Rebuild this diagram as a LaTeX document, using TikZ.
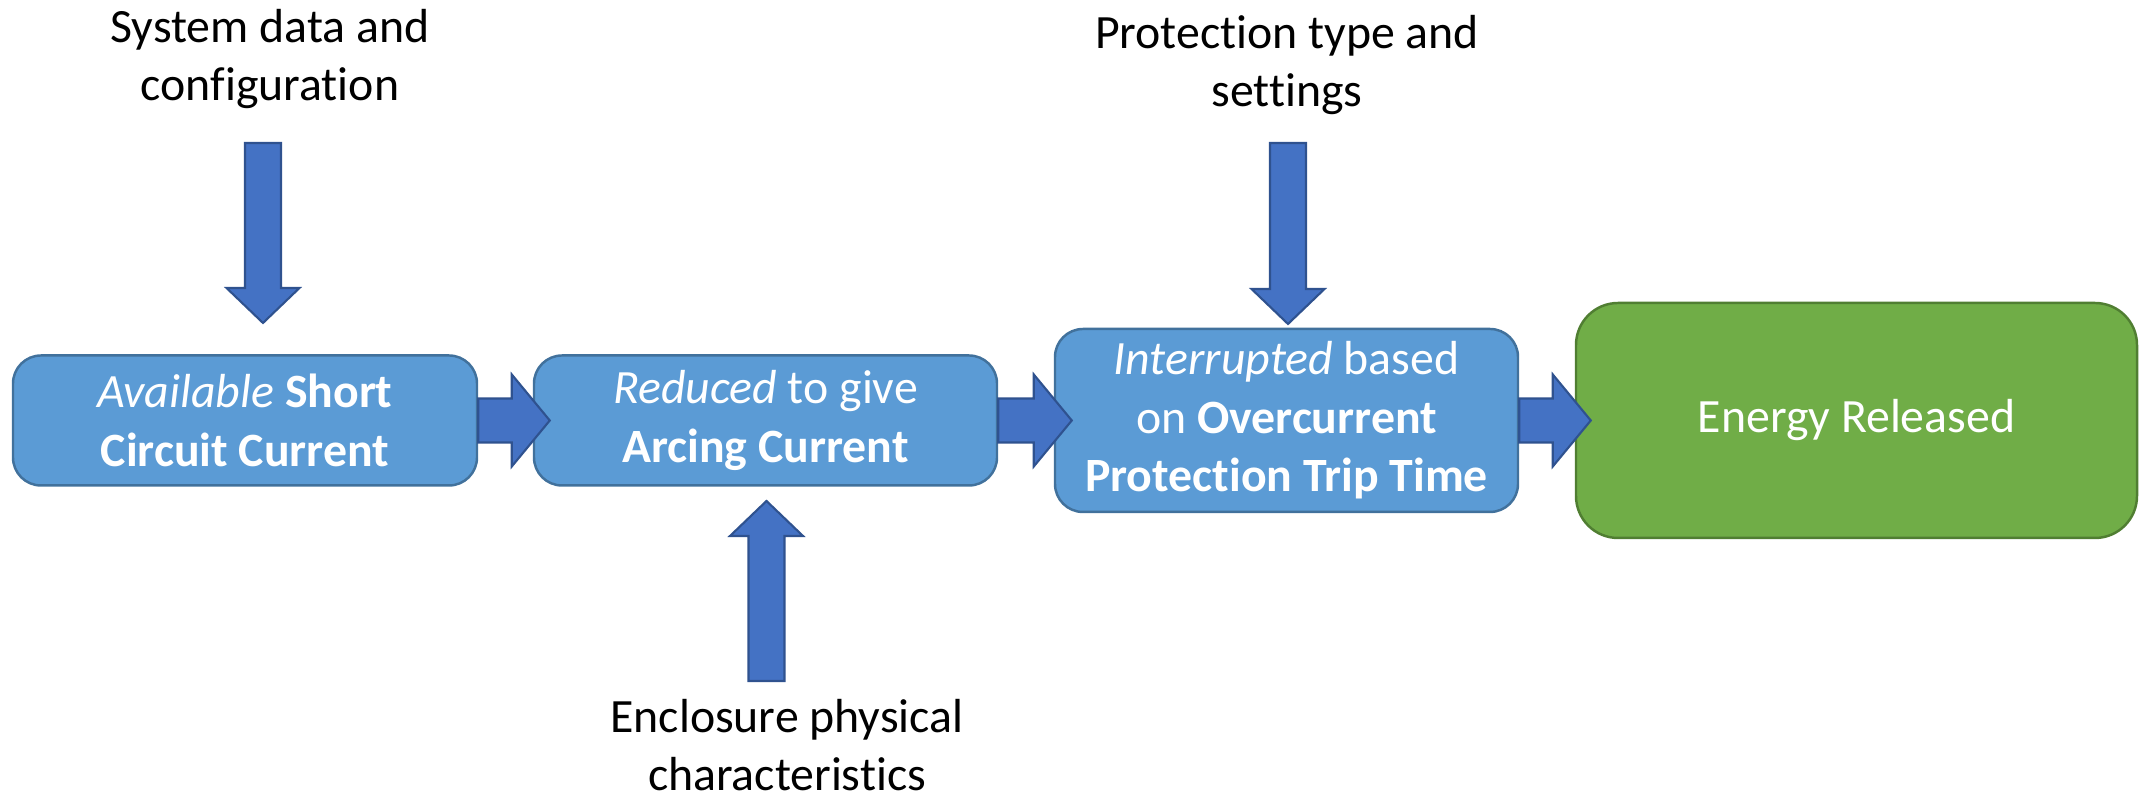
\documentclass[tikz,border=0pt]{standalone}
\usepackage{fontspec}
\setmainfont[Ligatures=NoCommon]{Carlito}
\usepackage{tikz}
\usetikzlibrary{calc}

\definecolor{boxfill}{HTML}{5B9BD5}
\definecolor{boxline}{HTML}{41719C}
\definecolor{arrowfill}{HTML}{4472C4}
\definecolor{arrowline}{HTML}{2F528F}
\definecolor{endfill}{HTML}{70AD47}
\definecolor{endline}{HTML}{507E32}

\newcommand{\fatarrow}[5]{%
  \coordinate (fa-c) at ($(#2)!#5!(#1)$);
  \draw[blockarrow] ($(#1)!#3!90:(#2)$) -- ($(fa-c)!#3!-90:(#1)$) -- ($(fa-c)!#4!-90:(#1)$) -- (#2)
    -- ($(fa-c)!#4!90:(#1)$) -- ($(fa-c)!#3!90:(#1)$) -- ($(#1)!#3!-90:(#2)$) -- cycle;
}

\begin{document}
\begin{tikzpicture}[
    stagebox/.style={draw=boxline, fill=boxfill, line width=0.7pt, rounded corners=0.28cm,
      text=white, align=center, inner sep=0pt, font=\fontsize{13.6pt}{16.6pt}\selectfont},
    endbox/.style={stagebox, draw=endline, fill=endfill, rounded corners=0.42cm},
    infotext/.style={align=center, text=black, inner sep=0pt, font=\fontsize{13.6pt}{16.6pt}\selectfont},
    blockarrow/.style={draw=arrowline, fill=arrowfill, line width=0.6pt}]
      \useasboundingbox (0,0) rectangle (21.47,7.98);

      \node[stagebox, minimum width=4.64cm, minimum height=1.30cm] (avail) at (2.45,3.775) {\textit{Available} \textbf{Short}\\\textbf{Circuit Current}};
      \node[stagebox, minimum width=4.63cm, minimum height=1.30cm] (arcing) at (7.655,3.775) {\textit{Reduced} to give\\\textbf{Arcing Current}};
      \node[stagebox, minimum width=4.63cm, minimum height=1.83cm] (interrupt) at (12.865,3.775) {\textit{Interrupted} based\\on \textbf{Overcurrent}\\\textbf{Protection Trip Time}};
      \node[endbox, minimum width=5.61cm, minimum height=2.35cm] (energy) at (18.565,3.775) {Energy Released};

      \node[infotext] (sysdata) at (2.70,7.39) {System data and\\configuration};
      \node[infotext] (protection) at (12.87,7.33) {Protection type and\\settings};
      \node[infotext] (enclosure) at (7.87,0.53) {Enclosure physical\\characteristics};

      \coordinate (sys-top) at (2.63,6.55);
      \coordinate (sys-tip) at (2.63,4.75);
      \coordinate (prot-top) at (12.88,6.55);
      \coordinate (prot-tip) at (12.88,4.74);
      \coordinate (encl-bot) at (7.665,1.17);
      \coordinate (encl-tip) at (7.665,2.97);
      \coordinate (arc-tip) at ($(arcing.west)+(0.17,0)$);
      \coordinate (int-tip) at ($(interrupt.west)+(0.18,0)$);
      \coordinate (en-tip) at ($(energy.west)+(0.16,0)$);

      \fatarrow{sys-top}{sys-tip}{0.18cm}{0.365cm}{0.35cm}
      \fatarrow{prot-top}{prot-tip}{0.18cm}{0.365cm}{0.35cm}
      \fatarrow{encl-bot}{encl-tip}{0.18cm}{0.365cm}{0.35cm}
      \fatarrow{avail.east}{arc-tip}{0.22cm}{0.46cm}{0.38cm}
      \fatarrow{arcing.east}{int-tip}{0.22cm}{0.46cm}{0.38cm}
      \fatarrow{interrupt.east}{en-tip}{0.22cm}{0.46cm}{0.38cm}
\end{tikzpicture}
\end{document}
